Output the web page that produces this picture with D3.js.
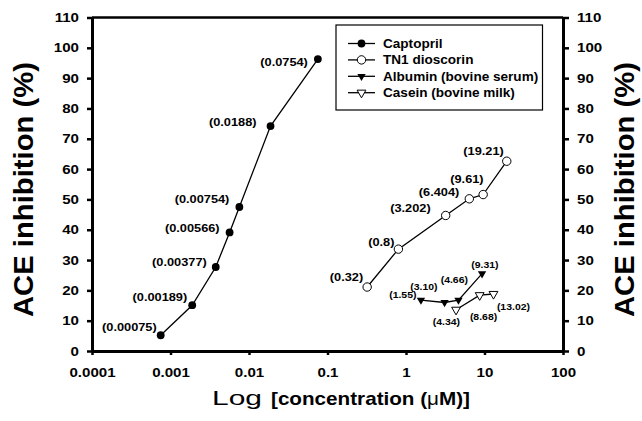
<!DOCTYPE html>
<html><head><meta charset="utf-8">
<script src="https://cdn.jsdelivr.net/npm/d3@7"></script>
<style>
html,body{margin:0;padding:0;background:#fff;}
svg{display:block;}
text{font-family:"Liberation Sans",Arial,sans-serif;}
</style></head>
<body><svg id="chart" width="642" height="421"></svg>
<script>
// ---- data ----
const xTickValues = [0.0001, 0.001, 0.01, 0.1, 1, 10, 100];
const xTickLabels = ["0.0001", "0.001", "0.01", "0.1", "1", "10", "100"];
const yTickValues = [0, 10, 20, 30, 40, 50, 60, 70, 80, 90, 100, 110];

const captoprilConc = [0.00075, 0.00189, 0.00377, 0.00566, 0.00754, 0.0188, 0.0754];
const captoprilInh  = [5.2, 15.1, 27.7, 39.1, 47.5, 74.2, 96.3];
const captoprilLbl  = ["(0.00075)", "(0.00189)", "(0.00377)", "(0.00566)", "(0.00754)", "(0.0188)", "(0.0754)"];

const dioscorinConc = [0.32, 0.8, 3.202, 6.404, 9.61, 19.21];
const dioscorinInh  = [21.1, 33.6, 44.7, 50.2, 51.6, 62.6];
const dioscorinLbl  = ["(0.32)", "(0.8)", "(3.202)", "(6.404)", "(9.61)", "(19.21)"];

const albuminConc = [1.55, 3.10, 4.66, 9.31];
const albuminInh  = [16.8, 16.0, 16.8, 25.5];
const albuminLbl  = ["(1.55)", "(3.10)", "(4.66)", "(9.31)"];

const caseinConc = [4.34, 8.68, 13.02];
const caseinInh  = [13.6, 18.4, 18.8];
const caseinLbl  = ["(4.34)", "(8.68)", "(13.02)"];

const seriesNames = ["Captopril", "TN1 dioscorin", "Albumin (bovine serum)", "Casein (bovine milk)"];

// ---- label placement (end-anchored offsets from each point, px) ----
const captoprilLblOff = [[-4,-4.5],[-5,-4],[-9,-1],[-10,0],[-10,-3.7],[-14,0],[-10,6.5]];
const dioscorinLblOff = [[-4,-5.7],[-4,-3],[-15,-3],[-10,-3],[0.5,-12],[-3,-6]];
const albuminLblOff   = [[-4.5,-2],[-7,-12],[9.5,-17],[16.5,-5.5]];
const caseinLblOff    = [[4,15],[17.5,24.5],[36.5,16]];

const svg = d3.select("#chart");
const x = d3.scaleLog().domain([1e-4, 100]).range([92, 563]);
const y = d3.scaleLinear().domain([0, 110]).range([351, 17.5]);
const STRETCH = 1.16;

function stretch(sel, f) {
  sel.each(function () {
    const L = this.getComputedTextLength();
    this.setAttribute("textLength", L * f);
    this.setAttribute("lengthAdjust", "spacingAndGlyphs");
  });
}

// ---- axes ----
const axL = svg.append("g").attr("transform", `translate(${x.range()[0]},0)`)
  .call(d3.axisLeft(y).tickValues(yTickValues).tickSize(5).tickSizeOuter(0).tickPadding(8));
const axR = svg.append("g").attr("transform", `translate(${x.range()[1]},0)`)
  .call(d3.axisRight(y).tickValues(yTickValues).tickSize(6).tickSizeOuter(0).tickPadding(8));
const axB = svg.append("g").attr("transform", `translate(0,${y(0)})`)
  .call(d3.axisBottom(x).tickValues(xTickValues).tickFormat((d, i) => xTickLabels[i])
    .tickSize(4).tickSizeOuter(0).tickPadding(13));
[axL, axR, axB].forEach(a => {
  a.select(".domain").attr("stroke", "#000").attr("stroke-width", 3);
  a.selectAll(".tick line").attr("stroke", "#000").attr("stroke-width", 2.5);
  a.selectAll(".tick text").attr("fill", "#000").attr("font-size", 13).attr("font-weight", "bold");
  stretch(a.selectAll(".tick text"), STRETCH);
});
// top frame line
svg.append("line").attr("x1", x.range()[0]).attr("x2", x.range()[1])
  .attr("y1", y(110)).attr("y2", y(110)).attr("stroke", "#000").attr("stroke-width", 2.5);

// ---- titles ----
function yTitle(tx) {
  svg.append("text").attr("transform", `translate(${tx},189.5) rotate(-90)`)
    .attr("text-anchor", "middle").attr("font-size", 27).attr("font-weight", "bold")
    .attr("textLength", 255).attr("lengthAdjust", "spacingAndGlyphs")
    .text("ACE inhibition (%)");
}
yTitle(33);
yTitle(634);
svg.append("text").attr("x", 212).attr("y", 405).attr("font-size", 21)
  .attr("textLength", 50).attr("lengthAdjust", "spacingAndGlyphs").text("Log");
const xt2 = svg.append("text").attr("x", 271).attr("y", 405).attr("font-size", 19).attr("font-weight", "bold")
  .attr("textLength", 199).attr("lengthAdjust", "spacingAndGlyphs");
xt2.append("tspan").text("[concentration (");
xt2.append("tspan").attr("font-weight", "normal").text("\u03BC");
xt2.append("tspan").text("M)]");

// ---- series ----
const line = d3.line().x(d => x(d[0])).y(d => y(d[1]));
const triDown = d3.symbol().type(d3.symbolTriangle).size(30);
const triOpen = d3.symbol().type(d3.symbolTriangle).size(34);

function drawSeries(conc, inh, lbl, off, marker, fontSize) {
  const pts = conc.map((c, i) => [c, inh[i]]);
  svg.append("path").datum(pts).attr("d", line).attr("fill", "none")
    .attr("stroke", "#000").attr("stroke-width", 1.3);
  const g = svg.append("g");
  pts.forEach(p => marker(g.append("g").attr("transform", `translate(${x(p[0])},${y(p[1])})`)));
  const t = svg.append("g").selectAll("text").data(pts).join("text")
    .attr("x", (d, i) => x(d[0]) + off[i][0]).attr("y", (d, i) => y(d[1]) + off[i][1])
    .attr("text-anchor", "end").attr("font-size", fontSize).attr("font-weight", "bold")
    .text((d, i) => lbl[i]);
  stretch(t, STRETCH);
}
const mFilledCircle = g => g.append("circle").attr("r", 3.9).attr("fill", "#000");
const mOpenCircle = g => g.append("circle").attr("r", 4.2).attr("fill", "#fff").attr("stroke", "#000").attr("stroke-width", 1);
const mFilledTri = g => g.append("path").attr("d", triDown()).attr("transform", "rotate(180)").attr("fill", "#000");
const mOpenTri = g => g.append("path").attr("d", triOpen()).attr("transform", "rotate(180)").attr("fill", "#fff").attr("stroke", "#000").attr("stroke-width", 1);

drawSeries(captoprilConc, captoprilInh, captoprilLbl, captoprilLblOff, mFilledCircle, 11);
drawSeries(dioscorinConc, dioscorinInh, dioscorinLbl, dioscorinLblOff, mOpenCircle, 11);
drawSeries(albuminConc, albuminInh, albuminLbl, albuminLblOff, mFilledTri, 9);
drawSeries(caseinConc, caseinInh, caseinLbl, caseinLblOff, mOpenTri, 9);

// ---- legend ----
const markers = [mFilledCircle, mOpenCircle, mFilledTri, mOpenTri];
svg.append("rect").attr("x", 336).attr("y", 25).attr("width", 206.5).attr("height", 85)
  .attr("fill", "#fff").attr("stroke", "#000").attr("stroke-width", 1.2);
seriesNames.forEach((name, i) => {
  const ly = 43.5 + i * 16.4;
  svg.append("line").attr("x1", 348).attr("x2", 375).attr("y1", ly).attr("y2", ly)
    .attr("stroke", "#000").attr("stroke-width", 1.3);
  markers[i](svg.append("g").attr("transform", `translate(361.5,${ly})`));
  const t = svg.append("text").attr("x", 383).attr("y", ly + 4.3).attr("font-size", 12)
    .attr("font-weight", "bold").text(name);
  stretch(t, 1.13);
});
</script></body></html>
